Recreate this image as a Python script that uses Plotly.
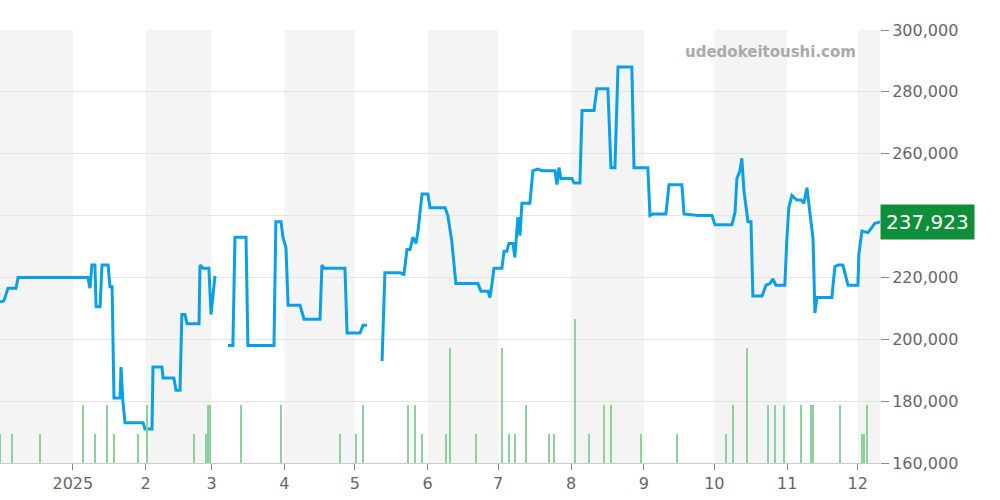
import datetime as dt
import plotly.graph_objects as go

base = dt.datetime(2024, 12, 1)

# price series: days since 2024-12-01, price (None = gap)
price_days = [0, 1.7, 3.4, 6.8, 7.7, 17, 37.4, 38.3, 39.1, 40.4, 40.9, 42.6, 43.4, 46, 46.8, 47.7,
              48.5, 51.1, 51.5, 52.3, 53.2, 60.9, 61.7, 64.7, 65.1, 68.9, 69.4, 74, 74.9, 76.6, 77.4,
              78.7, 79.6, 84.7, 85.1, 86.4, 88.9, 89.8, 91.5, 94, 97, 99.1, 100, 104.7, 105.5, 116.6,
              117.4, 119.6, 120.4, 121.7, 122.6, 127.7, 129.4, 136.2, 137, 137.9, 146.8, 147.7, 153.2,
              154.5, 156.2, 159, 162.6, 163.8, 170.2, 171.9, 173.2, 174.5, 175.7, 177, 177.9, 179.6,
              182.1, 183, 189.4, 190.6, 192.3, 194, 203.4, 204.7, 207.7, 208.5, 209.4, 210.2, 213.6,
              214.5, 215.7, 216.6, 218.3, 219.1, 220.4, 221.3, 222.1, 225.5, 226.8, 228.9, 230.6,
              236.2, 237, 237.9, 238.7, 243.4, 244.3, 246.8, 247.7, 252.8, 254, 258.7, 260, 261.7,
              263, 268.9, 269.8, 275.7, 276.6, 277.9, 283.4, 284.7, 290.2,
              291.1, 297, 303, 304.3, 311.5, 312.8, 313.6, 314.9, 315.7, 316.6, 318.3, 319.6, 320.4,
              324.3, 326, 327.7, 328.9, 330.2, 334, 334.9, 335.7, 337, 339.1, 340.9, 342.1, 343.4,
              344.7, 346, 346.8, 347.7, 354, 355.3, 356.6, 358.7, 360.9, 365.1, 365.5, 366.8, 369.4,
              372.3, 374.5]
price_vals = [212000, 212500, 216500, 216500, 220000, 220000, 220000, 216500, 224000, 224000, 210500,
              210500, 224000, 224000, 217000, 217000, 181000, 181000, 191000, 180000, 173000, 173000,
              171000, 171000, 191000, 191000, 187500, 187500, 183500, 183500, 208000, 208000, 205000,
              205000, 224000, 223000, 223000, 208000, 220500, None, 198000, 198000, 233000, 233000,
              198000, 198000, 238000, 238000, 233000, 229500, 211000, 211000, 206500, 206500, 224000,
              223000, 223000, 202000, 202000, 204500, 204500, None, 193000, 221500, 221500, 221000,
              229000, 229000, 233000, 231000, 235000, 247000, 247000, 242500, 242500, 240000, 231500,
              218000, 218000, 215500, 215500, 213500, 218000, 223000, 223000, 228500, 228500, 231000,
              231000, 226500, 239500, 233500, 244000, 244000, 254500, 255000, 254500, 254500, 250000,
              255500, 252000, 252000, 250500, 250500, 274000, 274000, 281000, 281000, 255500, 255500,
              288000, 288000, 255500, 255500, 240000, 240500, 240500, 250000, 250000,
              240500, 240000, 240000, 237000, 237000, 241000, 252000, 254500, 258500, 248000, 238000,
              238000, 214000, 214000, 217500, 218000, 219500, 217500, 217500, 233000, 242500, 246500,
              245000, 245000, 244000, 249000, 240500, 232500, 208500, 213500, 213500, 223500, 224000,
              224000, 217500, 217500, 227500, 235000, 234500, 237500, 237923]

vol_days = [0, 5, 17, 35.3, 40.4, 45.5, 48.5, 58.7, 62.6, 82.6, 87.7, 88.5, 89.4, 102.6, 119.6, 144.7,
            151.5, 154.5, 173.6, 176.6, 179.6, 189.8, 191.5, 202.6, 213.6, 216.6, 219.1, 223.8, 233.6,
            235.7, 244.7, 250.6, 257, 260, 272.8, 288.1, 308.9, 311.9, 317.9, 326.8, 329.8, 333.6,
            340.9, 345.1, 346, 357.4, 366.8, 367.7, 368.9]
vol_vals = [1, 1, 1, 2, 1, 2, 1, 1, 2, 1, 1, 2, 2, 2, 2, 1, 1, 2, 2, 2, 1, 1, 4, 1, 4, 1, 1, 2, 1, 1,
            5, 1, 2, 2, 1, 1, 1, 2, 4, 2, 2, 2, 2, 2, 2, 2, 1, 1, 2]

last_price = 237923
tick_dates = ["2025-01-01"] + [f"2025-{m:02d}-01" for m in range(2, 13)]
tick_text = ["2025"] + [str(m) for m in range(2, 13)]


def to_date(d):
    return base + dt.timedelta(days=d)


fig = go.Figure()

fig.add_trace(go.Bar(
    x=[to_date(d) for d in vol_days], y=vol_vals, yaxis="y2",
    marker_color="#8fd19e", marker_line_width=0, width=0.35 * 86400000,
))
fig.add_trace(go.Scatter(
    x=[to_date(d) for d in price_days], y=price_vals, mode="lines",
    line=dict(color="#0aa0e6", width=3), connectgaps=False,
))

# alternating month bands
shade_months = [("2024-12-01", "2025-01-01"), ("2025-02-01", "2025-03-01"), ("2025-04-01", "2025-05-01"),
                ("2025-06-01", "2025-07-01"), ("2025-08-01", "2025-09-01"), ("2025-10-01", "2025-11-01"),
                ("2025-12-01", "2026-01-01")]
shapes = [dict(type="rect", xref="x", yref="paper", x0=a, x1=b, y0=0, y1=1,
               fillcolor="#f4f4f4", line_width=0, layer="below") for a, b in shade_months]

fig.update_layout(
    width=1000, height=500,
    margin=dict(l=0, r=120, t=30, b=37, autoexpand=False),
    paper_bgcolor="white", plot_bgcolor="white",
    showlegend=False, shapes=shapes, bargap=0,
    font=dict(family="DejaVu Sans", color="#666", size=16),
    xaxis=dict(range=[to_date(0), to_date(374.5)], tickvals=tick_dates, ticktext=tick_text,
               showgrid=False, ticks="outside", ticklen=6, tickcolor="#888",
               showline=True, linecolor="#ccc", automargin=False),
    yaxis=dict(side="right", range=[160000, 300000], dtick=20000, tickformat=",",
               gridcolor="#e4e4e4", ticks="outside", ticklen=8, tickcolor="#888", zeroline=False,
               automargin=False),
    yaxis2=dict(overlaying="y", range=[0, 15], visible=False),
    annotations=[
        dict(text="udedokeitoushi.com", xref="paper", yref="paper", x=0.975, y=0.975,
             xanchor="right", yanchor="top", showarrow=False,
             font=dict(size=15, color="#aaa", family="DejaVu Sans", weight="bold")),
        dict(text=f"{last_price:,}", xref="paper", yref="y", x=1.0, y=last_price,
             xanchor="left", showarrow=False, bgcolor="#0f8f3a", borderpad=5,
             font=dict(size=20, color="white")),
    ],
)

fig.write_html("out.html", config={"displayModeBar": False},
               post_script="document.body.style.margin='0';")
